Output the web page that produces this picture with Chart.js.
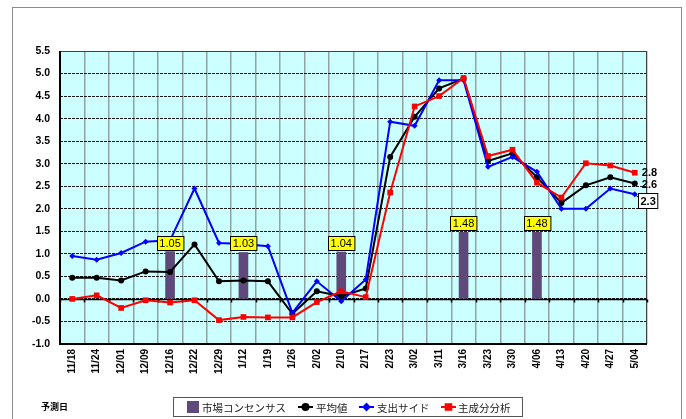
<!DOCTYPE html>
<html>
<head>
<meta charset="utf-8">
<script src="https://cdn.jsdelivr.net/npm/chart.js@4.4.1/dist/chart.umd.min.js"></script>
<style>
  html, body { margin: 0; padding: 0; background: #fff; }
</style>
</head>
<body>
<canvas id="chart" width="686" height="419"></canvas>
<script>
// Forecast dates (x axis)
const dates = ["11/18", "11/24", "12/01", "12/09", "12/16", "12/22", "12/29", "1/12",
  "1/19", "1/26", "2/02", "2/10", "2/17", "2/23", "3/02", "3/11", "3/16", "3/23",
  "3/30", "4/06", "4/13", "4/20", "4/27", "5/04"];

// Market consensus (bars, only on some dates)
const consensus = [null, null, null, null, 1.05, null, null, 1.03, null, null, null, 1.04,
  null, null, null, null, 1.48, null, null, 1.48, null, null, null, null];

// Average
const average = [0.47, 0.47, 0.41, 0.61, 0.60, 1.21, 0.39, 0.41, 0.39, -0.33, 0.17, 0.06,
  0.23, 3.15, 4.04, 4.67, 4.89, 3.06, 3.23, 2.70, 2.13, 2.52, 2.70, 2.56];

// Expenditure side
const expenditure = [0.95, 0.87, 1.02, 1.27, 1.30, 2.45, 1.24, 1.22, 1.17, -0.31, 0.39, -0.05,
  0.43, 3.93, 3.84, 4.85, 4.85, 2.93, 3.15, 2.82, 2.00, 2.00, 2.45, 2.32];

// Principal component analysis
const pca = [0.00, 0.08, -0.20, -0.03, -0.08, -0.03, -0.47, -0.40, -0.41, -0.41, -0.07, 0.17,
  0.04, 2.36, 4.27, 4.50, 4.90, 3.17, 3.31, 2.58, 2.25, 3.01, 2.96, 2.80];

const yTicks = { min: -1.0, max: 5.5, step: 0.5 };
const axisTitle = "予測日";

const boldFont = { family: "'Liberation Sans', Arial, sans-serif", size: 10, weight: "bold" };

// Draws background, frame, zero line, value boxes, end labels and the legend
const decorPlugin = {
  id: "decor",
  beforeDraw(chart) {
    const { ctx, chartArea: a } = chart;
    ctx.save();
    ctx.fillStyle = "#fff";
    ctx.fillRect(0, 0, chart.width, chart.height);
    ctx.strokeStyle = "#8c8c8c";
    ctx.lineWidth = 1;
    ctx.strokeRect(12.5, 7.5, 669, 430);
    ctx.fillStyle = "#ccffff";
    ctx.fillRect(a.left, a.top, a.right - a.left, a.bottom - a.top);
    ctx.restore();
  },
  beforeDatasetsDraw(chart) {
    const { ctx, chartArea: a, scales } = chart;
    const xs = scales.x, ys = scales.y;
    const y0 = Math.round(ys.getPixelForValue(0)) + 0.5;
    const step = (xs.getPixelForValue(1) - xs.getPixelForValue(0));
    ctx.save();
    // plot border
    ctx.strokeStyle = "#404040";
    ctx.lineWidth = 1;
    ctx.strokeRect(a.left + 0.5, a.top + 0.5, a.right - a.left - 1, a.bottom - a.top);
    ctx.strokeStyle = "#000";
    ctx.lineWidth = 2;
    ctx.beginPath();
    ctx.moveTo(a.left, a.top);
    ctx.lineTo(a.left, a.bottom);
    ctx.lineTo(a.right, a.bottom);
    ctx.stroke();
    // zero line with tick marks
    ctx.lineWidth = 1.5;
    ctx.beginPath();
    ctx.moveTo(a.left, y0);
    ctx.lineTo(a.right, y0);
    for (let i = 0; i <= dates.length; i++) {
      const x = Math.round(xs.getPixelForValue(i) - step / 2) + 0.5;
      ctx.moveTo(x, y0);
      ctx.lineTo(x, y0 + 3);
    }
    ctx.stroke();
    ctx.restore();
  },
  afterDraw(chart) {
    const { ctx } = chart;
    ctx.save();
    // value boxes above the consensus bars
    const barMeta = chart.getDatasetMeta(0);
    ctx.font = "11px 'Liberation Sans', Arial, sans-serif";
    ctx.textAlign = "center";
    ctx.textBaseline = "middle";
    consensus.forEach((v, i) => {
      if (v === null) return;
      const bar = barMeta.data[i];
      const txt = v.toFixed(2);
      const w = ctx.measureText(txt).width + 5;
      const h = 14;
      const bx = Math.round(bar.x - w / 2) + 0.5;
      const by = Math.round(bar.y - 2 - h) + 0.5;
      ctx.fillStyle = "#ffff00";
      ctx.fillRect(bx, by, w, h);
      ctx.strokeStyle = "#000";
      ctx.lineWidth = 1;
      ctx.strokeRect(bx, by, w, h);
      ctx.fillStyle = "#000";
      ctx.fillText(txt, bar.x, by + h / 2 + 0.5);
    });

    // labels at the end of each line
    ctx.font = "bold 11px 'Liberation Sans', Arial, sans-serif";
    ctx.textAlign = "left";
    const last = dates.length - 1;
    const redPt = chart.getDatasetMeta(3).data[last];
    const blackPt = chart.getDatasetMeta(1).data[last];
    const bluePt = chart.getDatasetMeta(2).data[last];
    ctx.fillStyle = "#000";
    ctx.fillText(pca[last].toFixed(1), redPt.x + 7, redPt.y);
    ctx.fillText(average[last].toFixed(1), blackPt.x + 7, blackPt.y + 1);
    const bt = expenditure[last].toFixed(1);
    const bw = ctx.measureText(bt).width + 4;
    const bx = Math.round(bluePt.x + 3) + 0.5, by = Math.round(bluePt.y) - 0.5;
    ctx.strokeStyle = "#000";
    ctx.lineWidth = 1;
    ctx.beginPath();
    ctx.moveTo(bluePt.x, bluePt.y);
    ctx.lineTo(bx, by + 4);
    ctx.stroke();
    ctx.fillStyle = "#fff";
    ctx.fillRect(bx, by, bw, 15);
    ctx.strokeRect(bx, by, bw, 15);
    ctx.fillStyle = "#000";
    ctx.fillText(bt, bx + 2, by + 8);

    // axis title
    ctx.font = "bold 9px 'Noto Sans CJK JP', sans-serif";
    ctx.fillText(axisTitle, 41, 407);

    // legend
    ctx.strokeStyle = "#555";
    ctx.strokeRect(173.5, 397.5, 349, 19);
    ctx.font = "10.5px 'Noto Sans CJK JP', sans-serif";
    ctx.textBaseline = "middle";
    const ly = 407;
    const items = [
      { ds: 0, sx: 187, tx: 202 },
      { ds: 1, sx: 298, tx: 316 },
      { ds: 2, sx: 359, tx: 377 },
      { ds: 3, sx: 441, tx: 458 }
    ];
    items.forEach(it => {
      const ds = chart.data.datasets[it.ds];
      if (ds.type === "line") {
        ctx.strokeStyle = ds.borderColor;
        ctx.lineWidth = 2;
        ctx.beginPath();
        ctx.moveTo(it.sx, ly);
        ctx.lineTo(it.sx + 15, ly);
        ctx.stroke();
        Chart.helpers.drawPoint(ctx, {
          pointStyle: ds.pointStyle, radius: ds.pointRadius, borderWidth: 1
        }, it.sx + 7.5, ly);
        ctx.fillStyle = ds.borderColor;
        ctx.fill();
      } else {
        ctx.fillStyle = ds.backgroundColor;
        ctx.fillRect(it.sx, ly - 6, 12, 12);
      }
      ctx.fillStyle = "#222";
      ctx.fillText(ds.label, it.tx, ly + 1);
    });
    ctx.restore();
  }
};

const ctx = document.getElementById("chart").getContext("2d");

new Chart(ctx, {
  type: "bar",
  data: {
    labels: dates,
    datasets: [
      {
        label: "市場コンセンサス",
        data: consensus,
        backgroundColor: "#5f497a",
        barThickness: 9,
        order: 4
      },
      {
        type: "line",
        label: "平均値",
        data: average,
        borderColor: "#000000",
        backgroundColor: "#000000",
        borderWidth: 2,
        pointStyle: "circle",
        pointRadius: 3,
        pointBorderWidth: 0,
        order: 3
      },
      {
        type: "line",
        label: "支出サイド",
        data: expenditure,
        borderColor: "#0000ff",
        backgroundColor: "#0000ff",
        borderWidth: 2,
        pointStyle: "rectRot",
        pointRadius: 3,
        pointBorderWidth: 0,
        order: 2
      },
      {
        type: "line",
        label: "主成分分析",
        data: pca,
        borderColor: "#ff0000",
        backgroundColor: "#ff0000",
        borderWidth: 2,
        pointStyle: "rect",
        pointRadius: 4,
        pointBorderWidth: 0,
        order: 1
      }
    ]
  },
  options: {
    responsive: false,
    animation: false,
    layout: { padding: { left: 0, top: 51, right: 39, bottom: 35 } },
    plugins: {
      legend: { display: false },
      tooltip: { enabled: false }
    },
    scales: {
      x: {
        offset: true,
        grid: { offset: true, color: "#8fa3a3", lineWidth: 1.5, drawTicks: false },
        border: { display: false },
        ticks: {
          font: boldFont,
          color: "#000",
          minRotation: 90,
          maxRotation: 90,
          padding: 5,
          autoSkip: false
        },
        afterFit(scale) { scale.height = 40; }
      },
      y: {
        min: yTicks.min,
        max: yTicks.max,
        grid: { color: "#1a1a1a", lineWidth: 1, drawTicks: false },
        border: { display: false, dash: [3, 1] },
        ticks: {
          stepSize: yTicks.step,
          font: { family: boldFont.family, size: 10.5, weight: "bold" },
          color: "#000",
          padding: 10,
          callback: (v) => Number(v).toFixed(1)
        },
        afterFit(scale) { scale.width = 60; }
      }
    }
  },
  plugins: [decorPlugin]
});
</script>
</body>
</html>
